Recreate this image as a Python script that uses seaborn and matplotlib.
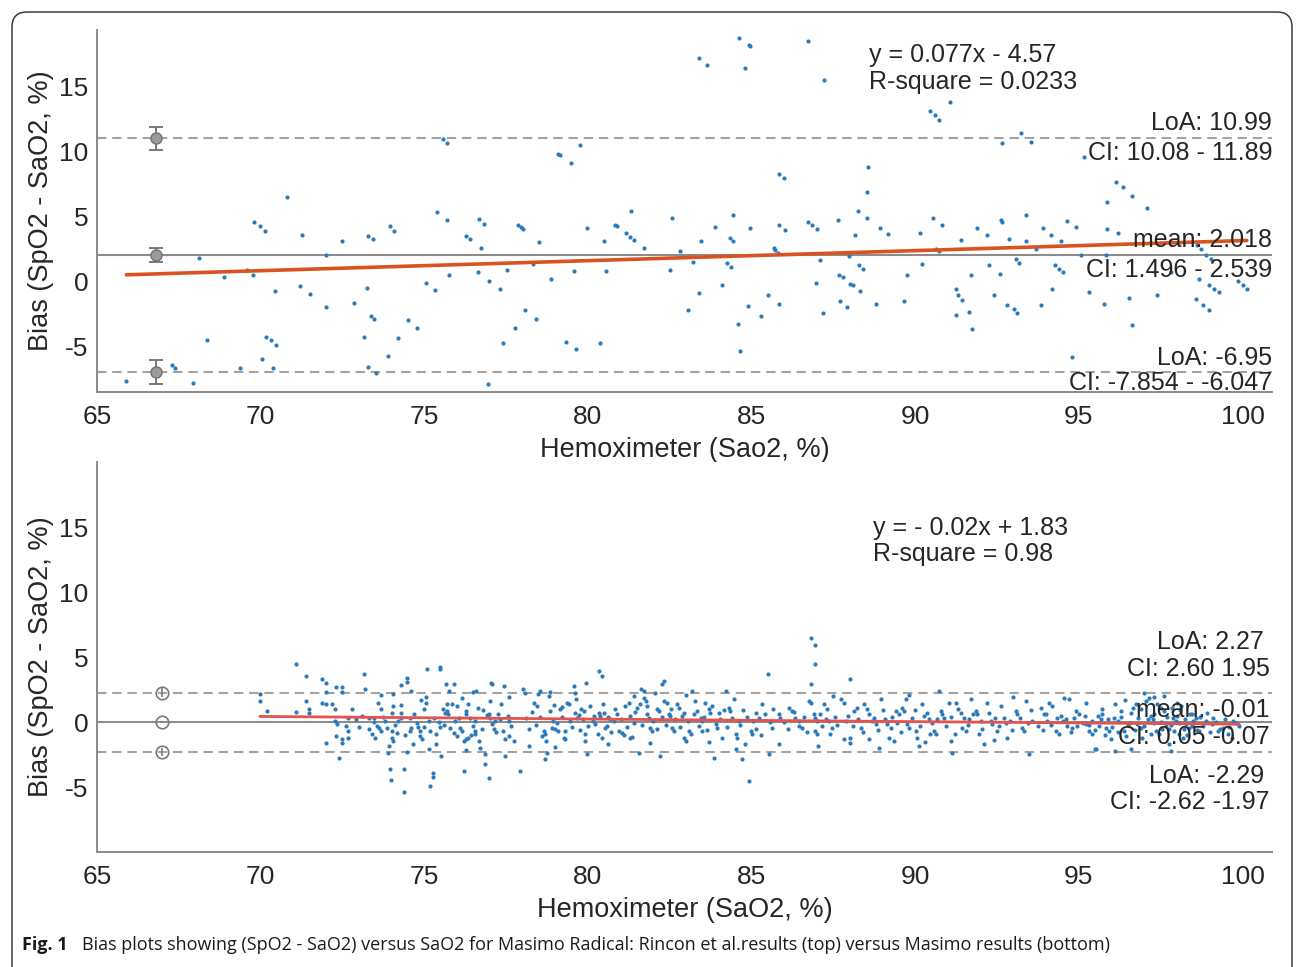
import matplotlib
matplotlib.use('Agg')
import matplotlib.pyplot as plt
from matplotlib.patches import FancyBboxPatch
import seaborn as sns
import numpy as np
import pandas as pd

sns.set_theme(style='white')
plt.rcParams['font.family'] = ['Liberation Sans', 'DejaVu Sans']
plt.rcParams['axes.unicode_minus'] = False

# ---------------------------------------------------------------------------
# Top panel: Rincon et al. (x = hemoximeter SaO2, y = SpO2 - SaO2)
# ---------------------------------------------------------------------------
rincon_sao2_a = [65.90, 67.29, 67.40, 67.94, 68.35, 68.13, 68.88, 69.36, 69.59, 69.77,
                 69.80, 69.98, 70.13, 70.03, 70.17, 70.33, 70.48, 70.38, 70.43, 70.81,
                 71.26, 71.21, 71.52, 72.01, 72.01, 72.50, 72.86, 73.15, 73.26, 73.29,
                 73.42, 73.36, 73.45, 73.29, 73.54, 73.90, 73.94, 74.09, 74.21, 74.49,
                 74.79, 75.04, 75.34, 75.38, 75.69, 75.57, 75.69, 75.76, 76.28, 76.40,
                 76.68, 76.84, 76.73, 76.63, 76.99, 76.94]
rincon_bias_a = [-7.67, -6.46, -6.64, -7.77, -4.54, 1.82, 0.31, -6.64, 0.85, 0.51,
                 4.56, 4.23, 3.90, -5.95, -4.28, -4.54, -4.87, -6.64, -0.77, 6.49,
                 3.59, -0.36, -0.98, 2.00, -1.98, 3.10, -1.67, -4.28, -0.49, 3.51,
                 3.25, -2.67, -2.87, -6.59, -7.05, -5.77, 4.23, 3.90, -4.36, -2.95,
                 -3.59, -0.10, -0.69, 5.30, 4.74, 10.97, 10.64, 0.51, 3.51, 3.28,
                 4.77, 4.41, 2.56, 0.72, 0.00, -7.87]

rincon_sao2_b = [77.30, 77.40, 77.54, 77.78, 77.87, 77.95, 78.01, 78.08, 78.31, 78.42,
                 78.52, 78.88, 79.10, 79.15, 79.32, 79.48, 79.57, 79.63, 79.77, 79.97,
                 80.37, 80.48, 80.56, 80.83, 80.88, 81.17, 81.29, 81.41, 81.31, 81.70,
                 82.51, 82.56, 82.81, 83.05, 83.20, 83.40, 83.44, 83.40, 83.65, 83.89,
                 84.09, 84.25, 84.35, 84.42, 84.38, 84.43, 84.59, 84.64, 84.63, 84.91,
                 84.94, 84.79, 84.90, 84.94, 85.29, 85.49, 85.67, 85.73, 85.80, 85.83,
                 85.98, 85.83, 86.01, 85.84, 86.71, 86.72, 86.85, 87.00, 87.08, 86.98,
                 87.18, 87.22, 87.63, 87.68, 87.78, 87.71, 87.92, 87.97, 88.02, 88.09,
                 88.17, 88.26, 88.27, 88.41, 88.31, 88.53, 88.54, 88.57, 88.80, 88.92,
                 89.16]
rincon_bias_b = [-0.57, -4.75, 0.90, -3.57, 4.36, 4.18, 4.05, -2.18, 1.33, -2.87,
                 3.00, 0.20, 9.82, 9.69, -4.64, 9.07, 0.79, -5.23, 10.49, 4.13,
                 -4.75, 3.07, 0.79, 4.36, 4.25, 3.74, 3.43, 3.15, 5.41, 2.56,
                 0.90, 4.90, 2.31, -2.18, 1.49, -0.87, 3.07, 17.15, 16.64, 4.20,
                 -0.26, 1.38, 3.36, 3.13, 1.08, 5.13, -3.28, -5.36, 18.66, 18.15,
                 18.05, 16.36, -1.90, 4.13, -2.67, -1.05, 2.56, 2.38, 2.18, 8.28,
                 7.95, 4.31, 3.95, -1.77, 18.48, 4.56, 4.31, 4.00, 1.67, -0.10,
                 -2.46, 15.46, 4.74, 0.51, 0.33, -1.54, -1.98, 1.95, -0.18, -0.31,
                 3.59, 5.41, 1.28, 0.97, -0.77, 4.90, 6.87, 8.79, -1.72, 4.13,
                 3.61]

rincon_sao2_c = [90.45, 90.59, 90.72, 91.06, 92.66, 93.22, 93.53, 95.16, 96.13, 96.36,
                 96.61, 97.09, 95.87, 95.87, 96.18, 90.55, 90.83, 90.16, 91.39, 91.90,
                 92.20, 92.61, 92.66, 93.39, 92.86, 93.90, 94.16, 93.39, 94.44, 94.65,
                 94.90, 90.21, 90.62, 90.72, 89.76, 89.65, 91.23, 91.30, 91.44, 91.64,
                 91.23, 91.69, 91.74, 92.25, 92.59, 92.41, 92.81, 93.02, 93.12, 93.07,
                 93.17, 93.68, 93.85, 94.19, 94.26, 94.39, 94.50, 94.80, 95.06, 95.31,
                 95.77, 95.82, 96.53, 96.61, 97.38, 98.57, 98.78, 98.98, 98.98, 99.13,
                 99.29, 98.62, 98.73, 98.88, 99.03, 99.85, 100.00, 100.13, 97.81, 98.67]
rincon_bias_c = [13.07, 12.77, 12.43, 13.79, 10.59, 11.43, 10.72, 9.56, 7.64, 7.25,
                 6.56, 5.64, 6.10, 4.05, 3.74, 4.87, 4.31, 3.72, 3.15, 4.13,
                 3.54, 4.69, 4.56, 5.13, 3.28, 4.13, 3.59, 3.10, 3.08, 4.62,
                 4.18, 1.36, 2.51, 2.31, 0.51, -1.49, -0.57, -1.08, -1.46, -2.36,
                 -2.62, 0.46, -3.64, 1.28, 0.59, -1.03, -1.80, -2.10, -2.41, 1.74,
                 1.44, 2.51, -1.85, -0.57, 1.28, 0.97, 0.72, -5.82, 2.00, -0.82,
                 -1.72, 2.05, -1.28, -3.39, -1.03, -1.33, -1.85, -2.23, -0.31, -0.57,
                 -0.82, 2.77, 2.46, 2.00, 1.74, 0.00, -0.26, -0.57, 0.72, 0.20]

rincon_fit = (0.077, -4.57)            # slope, intercept
rincon_mean, rincon_mean_ci = 2.018, (1.496, 2.539)
rincon_loa_hi, rincon_loa_hi_ci = 10.99, (10.08, 11.89)
rincon_loa_lo, rincon_loa_lo_ci = -6.95, (-7.854, -6.047)

# ---------------------------------------------------------------------------
# Bottom panel: Masimo results
# ---------------------------------------------------------------------------
masimo_sao2_a = [71.07, 71.38, 69.98, 69.98, 70.20, 71.07, 71.38, 71.48, 71.48, 71.87,
                 71.99, 71.99, 71.87, 71.99, 72.17, 72.28, 72.30, 72.48, 72.48, 71.99,
                 72.28, 72.33, 72.38, 72.48, 72.50, 72.68, 72.68, 72.68, 72.30, 73.17,
                 73.19, 73.30, 73.30, 73.47, 73.47, 73.48, 73.55, 73.62, 73.68, 73.68,
                 73.68, 73.81, 73.86, 73.91, 73.96, 73.98, 74.01, 74.06, 74.06, 74.01,
                 74.01, 74.03, 74.16, 74.21, 74.28, 74.28, 74.28, 74.37, 74.37, 74.47,
                 74.47, 74.47, 74.57, 74.57, 74.60, 74.67, 74.77, 74.82, 74.88, 74.88,
                 74.93, 74.98, 75.05, 75.05, 75.07, 75.13, 75.18, 75.13, 75.18, 75.26,
                 75.26, 75.36, 75.47, 75.47, 75.44, 75.49, 75.56, 75.64, 75.67, 75.69,
                 75.69, 75.72, 75.79, 75.90, 75.84, 75.77, 76.05, 76.10, 76.15, 76.16,
                 76.20, 76.20, 76.27, 76.35, 76.44, 76.27, 76.27, 76.27, 76.35, 76.48,
                 76.58, 76.56, 76.56, 76.56, 76.64, 76.66, 76.86, 76.86, 76.91, 76.97,
                 76.97, 77.02, 77.07, 77.12, 77.05, 77.07, 77.17, 77.25, 77.35, 77.45,
                 77.47, 77.42, 77.47, 77.58, 77.58, 77.73]
masimo_bias_a = [4.43, 3.54, 2.13, 1.61, 0.85, 0.79, 1.61, 0.97, 0.72, 3.28,
                 3.02, 2.33, 1.49, 1.36, 1.36, 0.97, 2.69, 2.69, 2.30, -1.59,
                 0.08, -0.18, -2.75, -1.33, -1.59, 0.33, -0.69, -1.26, -1.08, 3.72,
                 2.51, 0.33, -0.56, 0.33, 0.00, -1.21, -0.31, -0.49, -0.69, 0.97,
                 2.05, 0.08, -0.44, -1.85, -3.64, -4.49, 0.72, 1.23, 2.13, -0.69,
                 -1.21, -1.46, -0.82, 0.08, 2.82, 1.31, 0.72, -3.64, -5.39, 3.41,
                 3.10, -2.31, 0.33, -0.69, -0.44, -1.72, -0.05, -0.39, -0.69, -1.08,
                 -1.33, 0.97, 1.95, 1.49, 4.05, 0.08, -0.69, -2.10, -4.92, -3.90,
                 -4.23, -1.72, 4.23, 4.05, 0.03, -0.39, 0.97, 0.72, 2.90, 1.36,
                 0.85, 0.64, -0.49, -0.82, 1.36, 2.38, 0.33, -0.44, -0.69, 1.87,
                 -3.77, -1.46, -1.33, -1.21, -1.00, 0.59, 0.85, -2.18, 1.36, 2.28,
                 2.41, 0.08, -0.69, -0.95, 1.10, -1.46, -2.49, -3.26, 0.54, 0.64,
                 -4.28, 0.33, -0.18, -0.56, 3.00, 2.90, 0.08, 0.59, 1.36, 2.77,
                 -2.62, -0.69, -1.33, -1.08, 0.08, -1.46]

masimo_sao2_b = [77.93, 78.03, 78.07, 78.19, 78.34, 78.44, 78.49, 78.54, 78.65, 78.70,
                 78.72, 78.68, 78.75, 78.80, 78.85, 78.85, 78.90, 79.00, 79.10, 78.92,
                 79.16, 79.21, 79.26, 79.31, 79.36, 79.41, 79.56, 79.61, 79.67, 79.72,
                 79.80, 79.87, 79.92, 79.92, 79.95, 79.97, 80.14, 80.23, 80.33, 80.43,
                 80.33, 80.38, 80.48, 80.43, 80.53, 80.58, 80.68, 80.79, 80.84, 80.94,
                 81.04, 81.09, 81.14, 81.25, 81.30, 81.35, 81.40, 81.50, 81.60, 81.55,
                 81.63, 81.70, 81.70, 81.76, 81.81, 81.86, 81.91, 81.96, 82.06, 82.11,
                 82.16, 82.21, 82.26, 82.32, 82.32, 82.42, 82.47, 82.52, 82.57, 82.62,
                 82.72, 82.77, 82.88, 82.93, 83.00, 83.08, 83.18, 83.28, 83.34, 83.44,
                 83.49, 83.49, 83.59, 83.69, 83.74, 83.85, 83.90, 83.95, 84.00, 84.10,
                 84.22, 84.30, 84.35, 84.46, 84.51, 84.56, 84.53, 84.61, 84.71, 84.92,
                 84.97, 85.02, 85.12, 85.22, 85.32, 85.51, 85.53, 85.63]
masimo_bias_b = [-3.77, 2.51, 2.26, -1.85, 1.49, 1.23, 2.13, 2.38, -0.69, -0.95,
                 -1.46, -2.87, -2.36, 2.00, 2.31, 0.85, -0.44, -0.56, -0.69, 0.08,
                 0.97, 1.15, -1.21, -1.33, 1.49, 1.36, 2.77, 0.72, 0.33, 0.54,
                 0.97, 0.85, -0.95, -1.46, 3.03, -2.49, 0.08, -0.18, 3.92, 3.54,
                 0.72, 0.46, 0.72, -1.21, -0.44, -0.31, 0.21, 0.08, 0.97, -0.69,
                 -0.82, -1.00, 1.23, 1.49, -1.21, -1.15, -0.05, 1.10, 1.36, -2.36,
                 2.51, 2.38, 1.87, 1.62, 0.59, 0.33, -0.44, -0.69, 2.26, 0.97,
                 0.85, -2.62, 2.90, 3.15, 1.62, 1.49, 0.59, 0.46, -0.44, -0.69,
                 1.36, 1.10, 0.46, -1.21, -1.46, -0.69, 2.38, 1.62, 0.85, 0.33,
                 0.08, -0.69, 1.49, 0.97, 0.72, -2.74, -0.18, -0.44, 0.72, -1.21,
                 2.38, 1.10, 0.85, 1.74, -0.95, -1.21, -2.10, 0.08, -2.87, -4.54,
                 -0.69, -0.95, 0.72, 0.33, 1.36, 3.67, -2.49, -0.44]

masimo_sao2_c = [86.83, 86.93, 86.93, 86.83, 88.02, 85.83, 85.88, 85.83, 86.14, 86.24,
                 86.34, 86.44, 86.55, 86.75, 86.80, 86.90, 86.95, 87.00, 86.95, 87.00,
                 87.03, 87.21, 87.26, 87.36, 87.46, 87.72, 87.82, 87.82, 87.87, 88.02,
                 88.02, 88.13, 88.23, 88.33, 88.43, 88.53, 88.69, 88.79, 88.89, 88.94,
                 89.09, 89.14, 89.25, 89.20, 89.35, 89.40, 89.50, 89.60, 89.65, 89.71,
                 89.76, 89.81, 90.01, 90.06, 90.11, 90.21, 90.27, 90.42, 90.52, 90.57,
                 90.62, 90.72, 90.78, 90.83, 90.88, 91.03, 91.08, 91.13, 91.23, 91.32,
                 91.39, 91.44, 91.54, 91.64, 91.85, 91.90, 91.95, 92.10, 92.20, 92.30,
                 92.36, 92.51, 92.61, 92.71, 92.76, 92.81, 92.99, 93.07, 93.12, 93.27,
                 93.32, 93.38, 93.48, 93.58]
masimo_bias_c = [6.44, 5.92, 4.44, 2.95, 3.33, 0.59, 0.33, -1.72, 1.10, 0.85,
                 0.33, 0.08, -0.44, 1.62, 1.49, 0.59, 0.33, 0.08, -0.69, -0.95,
                 -1.85, 1.36, 0.21, 0.08, -0.44, 1.74, 1.49, -1.33, 0.08, -1.21,
                 -1.59, 0.85, 1.10, -0.44, 1.36, 0.97, 0.08, -0.18, -1.97, 1.74,
                 0.21, -0.18, -0.44, -1.21, -1.46, 0.85, 0.59, 1.10, 0.85, 1.74,
                 -0.18, -0.44, -0.69, -1.21, -1.85, 1.36, 0.46, 0.21, -0.05, -0.69,
                 -0.95, 2.38, 0.85, 0.59, 0.33, 1.49, -1.46, -2.36, 1.49, 0.97,
                 0.72, -0.44, -0.69, 0.21, 0.85, 0.59, -0.95, -1.72, 1.49, 0.08,
                 -0.18, -0.69, 1.23, 0.33, -0.05, -1.21, 1.92, 0.85, 0.59, -0.44,
                 -0.69, 1.62, -2.44, 0.08]

masimo_sao2_d = [93.83, 93.93, 94.04, 94.09, 94.19, 94.29, 94.39, 94.34, 94.50, 94.55,
                 94.70, 94.65, 94.80, 94.90, 95.01, 95.11, 95.21, 95.21, 95.31, 95.41,
                 95.52, 95.57, 95.67, 95.72, 95.82, 95.92, 95.97, 96.08, 96.18, 96.28,
                 96.38, 96.43, 96.53, 96.64, 96.74, 96.79, 96.89, 96.94, 97.04, 97.15,
                 97.20, 97.25, 97.30, 97.35, 97.45, 97.50, 97.60, 97.66, 97.76, 97.76,
                 97.86, 97.96, 98.01, 98.11, 98.06, 98.17, 98.27, 98.37, 98.47, 98.57,
                 98.67, 98.88, 99.08, 99.24, 99.39, 99.54, 99.69, 99.80, 99.90]
masimo_bias_d = [1.10, 0.59, 0.08, 1.49, 1.23, -0.69, -0.95, 0.33, 0.08, 1.87,
                 1.74, -0.31, -0.44, 0.85, 0.59, -0.05, -0.18, 1.49, -0.69, -0.95,
                 -2.10, 0.46, 0.21, 0.97, -0.44, -0.69, -1.33, 0.33, 0.08, 0.85,
                 -0.69, -1.08, -0.05, 1.10, 1.36, -0.18, -0.44, -1.21, 1.62, 1.87,
                 0.46, 0.21, -0.05, -0.69, -0.95, 1.10, 0.85, -0.31, -0.56, -1.72,
                 0.33, 0.08, 1.49, 1.23, -0.95, -1.21, -0.18, -0.44, 0.59, 0.33,
                 -0.69, 0.08, -0.18, -0.69, -0.44, -0.95, -1.21, -0.05, -0.31]

# denser band of points (read more roughly, they overlap heavily)
masimo_sao2_e = [95.2, 95.3, 95.4, 95.5, 95.6, 95.7, 95.8, 95.9, 96.0, 96.1,
                 96.2, 96.3, 96.5, 96.6, 96.7, 96.8, 96.9, 97.0, 97.1, 97.2,
                 97.3, 97.4, 97.5, 97.55, 97.6, 97.7, 97.8, 97.85, 97.9, 98.0,
                 98.05, 98.1, 98.2, 98.25, 98.3, 98.4, 98.45, 98.5, 98.6, 98.7,
                 98.8, 98.9, 99.0, 99.1, 99.2, 99.3, 99.45, 99.6, 99.7, 95.5,
                 96.1, 96.6, 97.8, 97.3, 97.0, 96.4]
masimo_bias_e = [0.5, -0.2, 0.1, -0.6, -0.3, 0.6, -1.0, 0.2, -0.4, 1.4,
                 -0.8, 0.4, -0.2, 0.7, -0.6, 0.3, 1.0, -0.3, 0.2, -0.9,
                 0.6, 1.4, 0.0, -0.5, 2.0, 0.4, -0.2, 1.1, -0.7, 0.5,
                 -0.1, 0.9, -0.5, 0.2, -1.0, 0.6, -0.3, 0.1, -0.6, 0.4,
                 -0.3, 0.7, -0.8, 0.3, 0.0, -0.5, 0.2, -0.4, 0.1, -2.1,
                 -2.2, -2.1, -2.25, 1.9, 2.2, 1.7]

masimo_sao2_f = [72.9, 73.0, 73.1, 73.4, 73.75, 74.1, 74.3, 74.4, 74.7, 75.0,
                 75.3, 75.35, 75.6, 75.95, 76.0, 76.4, 76.5, 76.75, 76.8, 77.2,
                 77.3, 77.55, 77.65, 73.6, 74.9, 76.0, 77.0, 72.8, 73.9, 75.5,
                 76.7, 77.6, 74.6, 75.9, 72.6]
masimo_bias_f = [0.2, -0.4, 0.5, -0.9, 0.4, -0.2, 0.3, -1.0, 0.6, -0.4,
                 0.3, -0.9, -0.2, 0.1, -1.1, 0.3, -0.3, -0.5, 0.9, -0.8,
                 0.2, 0.5, -0.3, 1.5, 1.7, 1.2, 1.6, 1.0, -2.4, -2.6,
                 -2.0, 1.9, 2.4, 2.9, -0.3]

masimo_sao2_g = [78.1, 78.2, 78.3, 78.4, 78.55, 78.6, 78.95, 79.05, 79.2, 79.3,
                 79.45, 79.5, 79.65, 79.75, 79.85, 80.0, 80.05, 80.2, 80.3, 80.45,
                 80.6, 80.7, 80.9, 81.0, 81.2, 81.3, 81.45, 81.65, 81.8, 82.0,
                 82.1, 82.25, 82.4, 82.55, 82.65, 82.8, 82.95, 83.05, 83.15, 83.25,
                 83.4, 83.55, 83.65, 83.8, 84.05, 84.15, 84.25, 84.4, 84.65, 84.75,
                 84.85, 85.05, 85.15, 85.3, 85.4, 85.55, 85.65, 79.0, 80.6, 81.9,
                 83.7, 84.8, 79.6, 81.4, 83.0]
masimo_bias_g = [0.3, -0.5, 0.8, -0.2, 0.4, -1.1, 1.3, -0.1, 0.4, -0.7,
                 0.1, -0.4, 1.8, -0.6, 0.2, -0.3, 1.2, 0.5, -0.9, 1.4,
                 0.4, -0.8, 0.6, 0.2, -0.4, 0.5, 0.8, -0.2, 1.2, 0.1,
                 -0.5, 0.4, -0.2, 1.0, 0.2, -0.4, 0.7, 0.1, -0.9, 0.6,
                 -0.3, 0.4, -0.6, 1.2, 0.2, 0.9, -0.4, 0.3, -0.2, 0.9,
                 0.4, 0.1, -0.5, -1.0, 0.6, 0.0, 1.0, -1.9, -1.7, -1.6,
                 -1.5, -1.7, 2.2, 2.0, 2.1]

masimo_sao2_h = [86.0, 86.1, 86.3, 86.45, 86.6, 86.7, 87.1, 87.15, 87.3, 87.4,
                 87.55, 87.6, 87.95, 88.1, 88.25, 88.4, 88.6, 88.75, 88.85, 89.0,
                 89.3, 89.45, 89.55, 89.9, 90.0, 90.15, 90.35, 90.45, 90.65, 90.95,
                 91.1, 91.2, 91.5, 91.6, 91.75, 92.0, 92.05, 92.25, 92.45, 92.55,
                 92.9, 92.95, 93.2, 93.45, 93.55, 87.5, 89.8, 91.7, 88.6, 90.3,
                 92.4, 93.75, 93.9, 94.0, 94.15, 94.45, 94.6, 94.75, 94.85, 94.95]
masimo_bias_h = [0.0, -0.5, 0.8, -0.3, 0.4, -0.8, 0.6, -0.3, 1.0, -0.9,
                 0.4, -0.2, 0.5, -0.3, 0.2, -0.8, 0.6, 0.3, -0.6, 0.9,
                 0.4, -0.1, -0.8, 0.3, 0.9, -0.3, 0.7, -0.9, 0.2, -0.3,
                 0.4, -0.9, 0.3, -0.2, 0.6, 0.1, -0.5, 0.7, 0.3, -0.3,
                 0.1, -0.6, 0.3, -0.1, 0.9, 2.0, 2.1, 1.8, -1.3, -1.5,
                 -1.4, -0.3, -0.6, 0.6, -0.2, 0.5, 0.2, -0.8, 0.3, -0.3]

masimo_fit = (-0.02, 1.83)
masimo_mean, masimo_mean_ci = -0.01, (0.05, -0.07)
masimo_loa_hi, masimo_loa_hi_ci = 2.27, (2.60, 1.95)
masimo_loa_lo, masimo_loa_lo_ci = -2.29, (-2.62, -1.97)

x_ticks = [65, 70, 75, 80, 85, 90, 95, 100]
y_ticks = [-5, 0, 5, 10, 15]

DOT_COLOR = '#2b7bba'
LINE_GRAY = '#8c8c8c'
DASH_GRAY = '#a3a3a3'
TEXT_COLOR = '#262626'


def style_axes(ax, ylim, xlabel):
    """Matlab-like look: only left/bottom spines, inward ticks."""
    ax.set_xlim(65, 100.9)
    ax.set_ylim(*ylim)
    ax.set_xticks(x_ticks)
    ax.set_yticks(y_ticks)
    for side in ['top', 'right']:
        ax.spines[side].set_visible(False)
    for side in ['left', 'bottom']:
        ax.spines[side].set_color('#8a8a8a')
        ax.spines[side].set_linewidth(1.4)
    ax.tick_params(axis='both', direction='in', length=8, width=1.2, color='#8a8a8a',
                   labelcolor=TEXT_COLOR, labelsize=19)
    ax.tick_params(axis='x', pad=9)
    ax.tick_params(axis='y', pad=6)
    ax.set_xlabel(xlabel, fontsize=19.5, color=TEXT_COLOR, labelpad=6)
    ax.set_ylabel('Bias (SpO2 - SaO2, %)', fontsize=19.5, color=TEXT_COLOR, labelpad=4)
    ax.grid(False)


def reference_lines(ax, mean, loa_hi, loa_lo):
    ax.axhline(mean, color=LINE_GRAY, lw=1.5, zorder=1)
    for v in (loa_hi, loa_lo):
        ax.axhline(v, color=DASH_GRAY, lw=1.5, dashes=(4.5, 2.8), zorder=1)


def fit_line(ax, sao2, fit, color, lw):
    xs = np.array([np.min(sao2), np.max(sao2)])
    sns.lineplot(x=xs, y=fit[0] * xs + fit[1], ax=ax, color=color, lw=lw, zorder=4)


fig = plt.figure(figsize=(12.96, 9.67), dpi=100)
ax_top = fig.add_axes([0.0748, 0.5946, 0.9067, 0.3743])
ax_bot = fig.add_axes([0.0748, 0.1189, 0.9067, 0.4033])

# ----- top panel -----
top = pd.DataFrame({
    'sao2': rincon_sao2_a + rincon_sao2_b + rincon_sao2_c,
    'bias': rincon_bias_a + rincon_bias_b + rincon_bias_c,
})
reference_lines(ax_top, rincon_mean, rincon_loa_hi, rincon_loa_lo)
sns.scatterplot(data=top, x='sao2', y='bias', ax=ax_top, s=9, color=DOT_COLOR,
                linewidth=0, zorder=3)
fit_line(ax_top, top['sao2'], rincon_fit, '#d9531e', 2.6)

centers = [rincon_loa_hi, rincon_mean, rincon_loa_lo]
cis = [rincon_loa_hi_ci, rincon_mean_ci, rincon_loa_lo_ci]
ax_top.errorbar([66.8] * 3, centers,
                yerr=[[c - ci[0] for c, ci in zip(centers, cis)],
                      [ci[1] - c for c, ci in zip(centers, cis)]],
                fmt='o', ms=8, mfc='#9b9b9b', mec='#727272', ecolor='#6f6f6f',
                elinewidth=1.3, capsize=5, capthick=1.3, zorder=5)

style_axes(ax_top, (-8.5, 19.3), 'Hemoximeter (Sao2, %)')

yt = ax_top.get_yaxis_transform()
txt = dict(fontsize=18, color=TEXT_COLOR, zorder=6)
ax_top.text(88.6, 17.4, f'y = {rincon_fit[0]}x - {abs(rincon_fit[1])}', va='center', **txt)
ax_top.text(88.6, 15.3, 'R-square = 0.0233', va='center', **txt)
ax_top.text(1.0, rincon_loa_hi + 1.2, f'LoA: {rincon_loa_hi}', transform=yt,
            ha='right', va='center', **txt)
ax_top.text(1.0, rincon_loa_hi - 1.15,
            f'CI: {rincon_loa_hi_ci[0]} - {rincon_loa_hi_ci[1]}', transform=yt,
            ha='right', va='center', **txt)
ax_top.text(1.0, rincon_mean + 1.13, f'mean: {rincon_mean}', transform=yt,
            ha='right', va='center', **txt)
ax_top.text(1.0, rincon_mean - 1.17,
            f'CI: {rincon_mean_ci[0]} - {rincon_mean_ci[1]}', transform=yt,
            ha='right', va='center', **txt)
ax_top.text(1.0, rincon_loa_lo + 1.1, f'LoA: {rincon_loa_lo}', transform=yt,
            ha='right', va='center', **txt)
ax_top.text(1.0, rincon_loa_lo - 0.85,
            f'CI: {rincon_loa_lo_ci[0]} - {rincon_loa_lo_ci[1]}', transform=yt,
            ha='right', va='center', **txt)

# ----- bottom panel -----
bot = pd.DataFrame({
    'sao2': (masimo_sao2_a + masimo_sao2_b + masimo_sao2_c + masimo_sao2_d
             + masimo_sao2_e + masimo_sao2_f + masimo_sao2_g + masimo_sao2_h),
    'bias': (masimo_bias_a + masimo_bias_b + masimo_bias_c + masimo_bias_d
             + masimo_bias_e + masimo_bias_f + masimo_bias_g + masimo_bias_h),
})
reference_lines(ax_bot, masimo_mean, masimo_loa_hi, masimo_loa_lo)
sns.scatterplot(data=bot, x='sao2', y='bias', ax=ax_bot, s=9, color=DOT_COLOR,
                linewidth=0, zorder=3)
fit_line(ax_bot, bot['sao2'], masimo_fit, '#e8524a', 2.0)

centers = [masimo_loa_hi, masimo_mean, masimo_loa_lo]
cis = [masimo_loa_hi_ci, masimo_mean_ci, masimo_loa_lo_ci]
ax_bot.errorbar([67.0] * 3, centers,
                yerr=[[abs(c - min(ci)) for c, ci in zip(centers, cis)],
                      [abs(max(ci) - c) for c, ci in zip(centers, cis)]],
                fmt='o', ms=9, mfc='none', mec='#7a7a7a', mew=1.2, ecolor='#7a7a7a',
                elinewidth=1.2, capsize=0, zorder=5)

style_axes(ax_bot, (-10, 20), 'Hemoximeter (SaO2, %)')

yt = ax_bot.get_yaxis_transform()
ax_bot.text(88.7, 14.9, f'y = - {abs(masimo_fit[0])}x + {masimo_fit[1]}', va='center', **txt)
ax_bot.text(88.7, 12.9, 'R-square = 0.98', va='center', **txt)
ax_bot.text(0.993, 6.15, f'LoA: {masimo_loa_hi}', transform=yt, ha='right', va='center', **txt)
ax_bot.text(0.998, 4.08, f'CI: {masimo_loa_hi_ci[0]:.2f} {masimo_loa_hi_ci[1]:.2f}',
            transform=yt, ha='right', va='center', **txt)
ax_bot.text(0.998, 0.92, f'mean: {masimo_mean}', transform=yt, ha='right', va='center', **txt)
ax_bot.text(0.998, -1.15, f'CI: {masimo_mean_ci[0]:.2f} {masimo_mean_ci[1]:.2f}',
            transform=yt, ha='right', va='center', **txt)
ax_bot.text(0.993, -4.15, f'LoA: {masimo_loa_lo}', transform=yt, ha='right', va='center', **txt)
ax_bot.text(0.998, -6.15, f'CI: {masimo_loa_lo_ci[0]:.2f} {masimo_loa_lo_ci[1]:.2f}',
            transform=yt, ha='right', va='center', **txt)

# ----- journal frame + caption -----
frame = FancyBboxPatch((0.12, -0.3), 12.80, 9.85, boxstyle='round,pad=0,rounding_size=0.15',
                       transform=fig.dpi_scale_trans, fill=False, edgecolor='#3a3a3a',
                       lw=1.1, clip_on=False)
fig.patches.append(frame)

fig.text(22 / 1296, 1 - 945 / 967, 'Fig. 1', fontsize=13, fontweight='bold',
         family=['Open Sans', 'DejaVu Sans'], va='center', color='#1a1a1a')
fig.text(82 / 1296, 1 - 945 / 967,
         'Bias plots showing (SpO2 - SaO2) versus SaO2 for Masimo Radical: '
         'Rincon et al.results (top) versus Masimo results (bottom)',
         fontsize=13, family=['Open Sans', 'DejaVu Sans'], va='center', color='#1a1a1a')

fig.savefig('out.png', dpi=100)
plt.close(fig)
